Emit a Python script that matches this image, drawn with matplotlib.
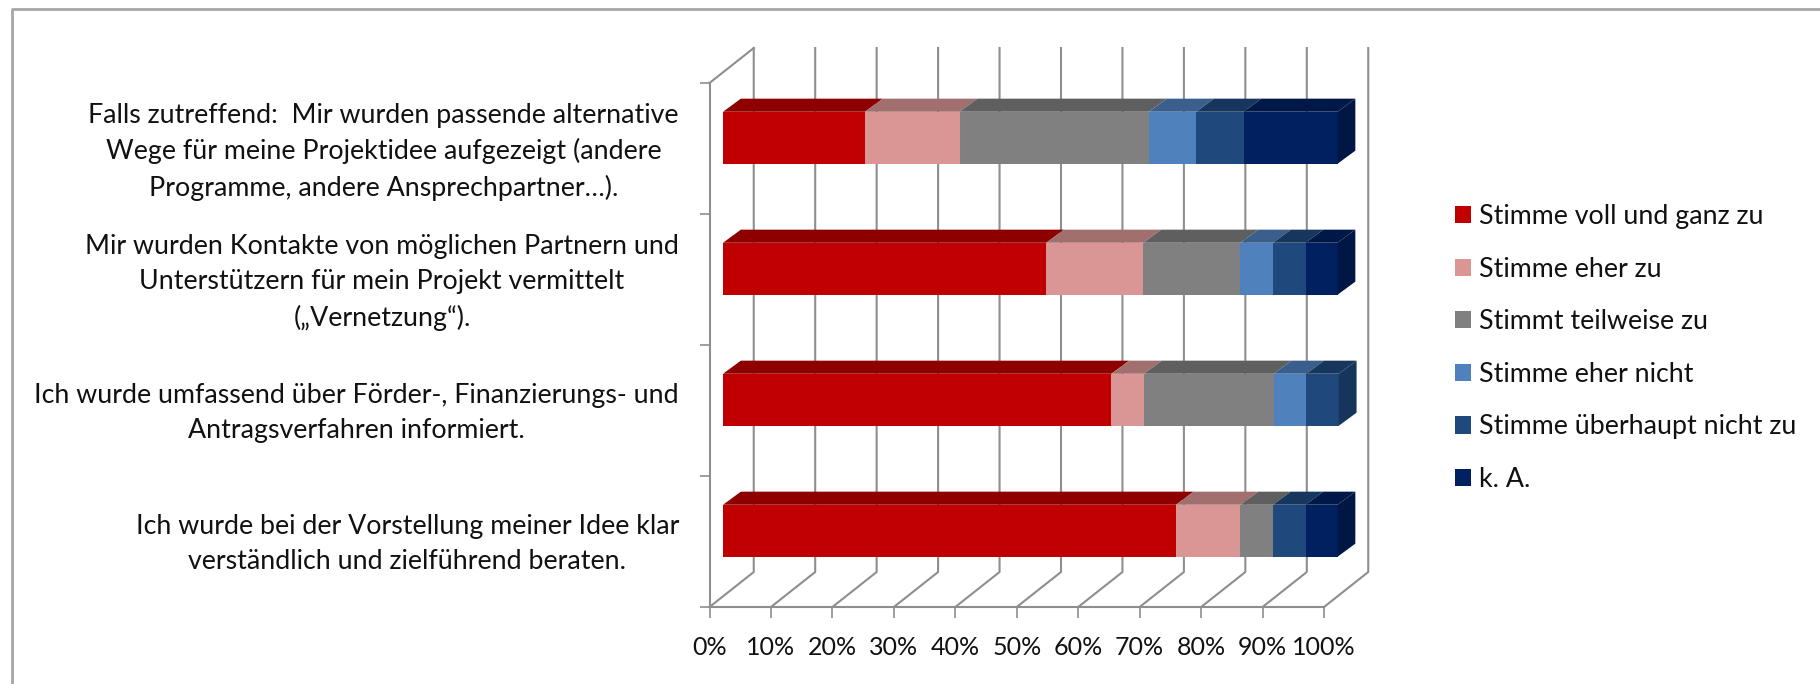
import numpy as np
import matplotlib
matplotlib.use("Agg")
import matplotlib.pyplot as plt
from matplotlib.lines import Line2D
from matplotlib.patches import Patch
from matplotlib.colors import to_rgb

categories = [
    "Ich wurde bei der Vorstellung meiner Idee klar\nverständlich und zielführend beraten.",
    "Ich wurde umfassend über Förder-, Finanzierungs- und\nAntragsverfahren informiert.",
    "Mir wurden Kontakte von möglichen Partnern und\nUnterstützern für mein Projekt vermittelt\n(„Vernetzung“).",
    "Falls zutreffend:  Mir wurden passende alternative\nWege für meine Projektidee aufgezeigt (andere\nProgramme, andere Ansprechpartner…).",
]
series = ["Stimme voll und ganz zu", "Stimme eher zu", "Stimmt teilweise zu",
          "Stimme eher nicht", "Stimme überhaupt nicht zu", "k. A."]
colours = ["#C00000", "#D99694", "#808080", "#4F81BD", "#1F497D", "#002060"]

# one row per category, bottom to top
voll = [73.7, 63.2, 52.6, 23.1]
eher = [10.5, 5.3, 15.8, 15.4]
teilweise = [5.3, 21.1, 15.8, 30.8]
eher_nicht = [0.0, 5.3, 5.3, 7.7]
gar_nicht = [5.3, 5.3, 5.3, 7.7]
keine = [5.2, 0.0, 5.2, 15.3]

xticks = list(range(0, 101, 10))

FONT = "Lato"
SIZE = 19.3

def shade(colour, factor):
    return tuple(c * factor for c in to_rgb(colour))

fig = plt.figure(figsize=(18.2, 6.84), dpi=100)
ax = fig.add_axes([709.5 / 1820, (684 - 607) / 684, 614.5 / 1820, 524 / 684])
ax.set_xlim(0, 100)
ax.set_ylim(0, 4)

# Depth of the fake 3D box, in data units.
wallX, wallY = 7.2, 0.267
barX, barY = 2.2, 0.082
depthX, depthY = 2.9, 0.1
barHeight = 0.397

grid = "#8e8e8e"
for x in xticks:
    ax.plot([x, x + wallX, x + wallX], [0, wallY, 4 + wallY], color=grid, lw=1.5, clip_on=False, zorder=1)
ax.plot([0, wallX], [4, 4 + wallY], color=grid, lw=1.5, clip_on=False, zorder=1)

stack = np.array([voll, eher, teilweise, eher_nicht, gar_nicht, keine])
left = np.zeros(len(categories)) + barX
ypos = np.arange(len(categories)) + 0.5 + barY

for values, colour in zip(stack, colours):
    ax.barh(ypos, values, left=left, height=barHeight, color=colour, zorder=3, clip_on=False)
    for l, v, y in zip(left, values, ypos):
        if v > 0:
            top = y + barHeight / 2
            ax.fill([l, l + v, l + v + depthX, l + depthX], [top, top, top + depthY, top + depthY],
                    color=shade(colour, 0.74), lw=0, zorder=3, clip_on=False)
    left = left + values

# End caps take the colour of the last non-empty segment.
for row, y in enumerate(ypos):
    last = [c for v, c in zip(stack[:, row], colours) if v > 0][-1]
    end = barX + stack[:, row].sum()
    bottom, top = y - barHeight / 2, y + barHeight / 2
    ax.fill([end, end + depthX, end + depthX, end], [bottom, bottom + depthY, top + depthY, top],
            color=shade(last, 0.72), lw=0, zorder=3, clip_on=False)

for side in ["top", "right"]:
    ax.spines[side].set_visible(False)
for side in ["left", "bottom"]:
    ax.spines[side].set_color(grid)
    ax.spines[side].set_linewidth(1.5)

ax.set_xticks(xticks)
ax.set_xticklabels([str(x) + "%" for x in xticks], fontsize=18, family=FONT, color="#111111")
ax.tick_params(axis="x", length=8, width=1.2, color=grid, pad=13)
ax.set_yticks(range(5))
ax.set_yticklabels([])
ax.tick_params(axis="y", which="major", length=7, width=1.2, color=grid)
ax.set_yticks(np.arange(4) + 0.535, minor=True)
ax.set_yticklabels(categories, minor=True, fontsize=SIZE, family=FONT, color="#111111",
                   ha="right", multialignment="center", linespacing=1.5)
ax.tick_params(axis="y", which="minor", length=0, pad=22)

handles = [Patch(facecolor=c, edgecolor="none", label=s) for c, s in zip(colours, series)]
fig.legend(handles=handles, loc="upper left", bbox_to_anchor=(1455 / 1820, 1 - 204 / 684), frameon=False,
           prop={"family": FONT, "size": SIZE}, handlelength=0.6, handleheight=0.6, handletextpad=0.3,
           labelspacing=1.03, borderpad=0, borderaxespad=0, labelcolor="#111111")

# Picture frame, open at the bottom and on the right.
fig.add_artist(Line2D([12 / 1820, 12 / 1820, 1], [0, 1 - 9 / 684, 1 - 9 / 684], color="#a6a6a6", lw=2))

fig.savefig("out.png", dpi=100)
